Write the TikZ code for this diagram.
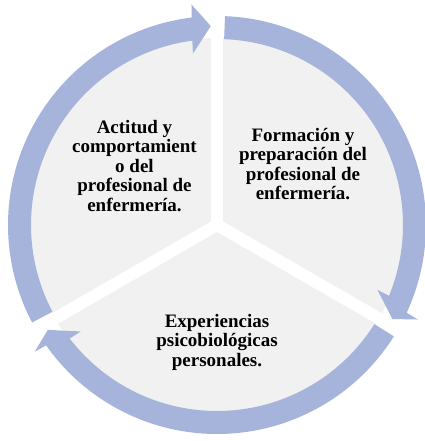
\documentclass[tikz,border=0pt]{standalone}
\usepackage{fontspec}
\setmainfont{Liberation Serif}
\usepackage{tikz}
\definecolor{RingBlue}{RGB}{166,180,219}
\definecolor{PieGray}{RGB}{241,241,241}
\tikzset{
  % Pie sectors
  pie/.style={
    fill=PieGray
  },
  % White gaps between the sectors
  sepline/.style={
    draw=white,
    line width=12pt,
    line cap=round
  },
  % Circular arrows round the pie
  ringarrow/.style={
    fill=RingBlue
  },
  % Sector text
  seglabel/.style={
    align=center,
    inner sep=0pt,
    font=\fontsize{19}{19.5}\selectfont\bfseries
  }
}

\begin{document}
\begin{tikzpicture}
  \fill[white] (-217pt,-216pt) rectangle (207pt,225pt);
  \useasboundingbox (-217pt,-216pt) rectangle (207pt,225pt);

  % The pie
  \fill[pie] (0pt,0pt) circle (187pt);
  \coordinate (c) at (0pt,0pt);
  \coordinate (s1) at (90:192pt);
  \coordinate (s2) at (210:192pt);
  \coordinate (s3) at (330:192pt);
  \draw[sepline] (c) -- (s1);
  \draw[sepline] (c) -- (s2);
  \draw[sepline] (c) -- (s3);

  % Arrows, clockwise
  \fill[ringarrow] (207.8:209pt) arc[start angle=207.8, end angle=96.97, radius=209pt]
    -- (96.6:222pt) -- (91.8:199pt) -- (98:173pt) -- (97.63:186pt)
    arc[start angle=97.63, end angle=207.8, radius=186pt] -- cycle;
  \fill[ringarrow] (87.8:209pt) arc[start angle=87.8, end angle=-24.83, radius=209pt]
    -- (-25.2:222pt) -- (-28.2:199pt) -- (-22:173pt) -- (-22.37:186pt)
    arc[start angle=-22.37, end angle=87.8, radius=186pt] -- cycle;
  \fill[ringarrow] (-32.2:209pt) arc[start angle=-32.2, end angle=-144.83, radius=209pt]
    -- (-145.2:222pt) -- (-148.2:199pt) -- (-142:173pt) -- (-142.37:186pt)
    arc[start angle=-142.37, end angle=-32.2, radius=186pt] -- cycle;

  % Labels
  \node[seglabel] (actitud) at (-82.5pt,59pt) {Actitud y\\comportamient\\o del\\profesional de\\enfermería.};
  \node[seglabel] (formacion) at (86pt,61pt) {Formación y\\preparación del\\profesional de\\enfermería.};
  \node[seglabel] (experiencias) at (0pt,-117pt) {Experiencias\\psicobiológicas\\personales.};
\end{tikzpicture}
\end{document}
